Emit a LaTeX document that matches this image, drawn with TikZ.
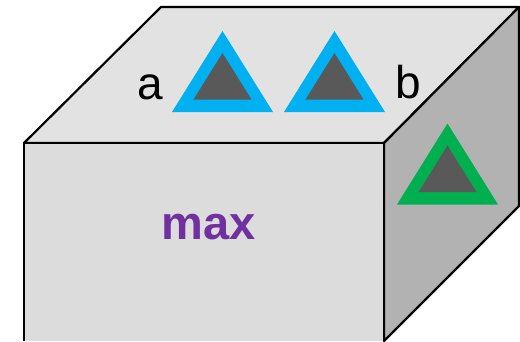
\documentclass[tikz,border=0pt]{standalone}
\usepackage{fontspec}
\setmainfont{Liberation Sans}
\usetikzlibrary{positioning}
\definecolor{facetop}{HTML}{E2E2E2}
\definecolor{facefront}{HTML}{DCDCDC}
\definecolor{faceside}{HTML}{B2B2B2}
\definecolor{triblue}{HTML}{00B0F0}
\definecolor{trigreen}{HTML}{00B050}
\definecolor{trigray}{HTML}{595959}
\definecolor{maxpurple}{HTML}{7030A0}
\tikzset{
  face/.style={draw=black, line width=2.2pt, line join=round},
  letter/.style={inner sep=0pt, anchor=base, font=\fontsize{46}{46}\selectfont},
  maxlabel/.style={inner sep=0pt, anchor=base, text=maxpurple, font=\fontsize{47}{47}\selectfont\bfseries}
}

\begin{document}
\begin{tikzpicture}[x=1pt, y=-1pt]
    \useasboundingbox (0,0) rectangle (520,341);
    % cube faces
    \coordinate (frontleft) at (24,143);
    \coordinate (frontright) at (384,143);
    \coordinate (backleft) at (161,7);
    \coordinate (backright) at (519,7);
    \filldraw[face, fill=facetop] (frontleft) -- (backleft) -- (backright) -- (frontright) -- cycle;
    \filldraw[face, fill=faceside] (frontright) -- (backright) -- (519,206) -- (384,341) -- cycle;
    \fill[facefront] (frontleft) rectangle (384,341);
    \draw[face] (24,341) -- (frontleft) -- (frontright) -- (384,341);
    % triangles
    \foreach \tx/\ty/\tcolor in {222.5/112/triblue, 334.5/112/triblue, 447.5/204.5/trigreen} {
      \fill[\tcolor] (\tx-50.5,\ty) -- (\tx,\ty-81) -- (\tx+50.5,\ty) -- cycle;
      \fill[trigray] (\tx-29,\ty-12.5) -- (\tx,\ty-59) -- (\tx+29,\ty-12.5) -- cycle;
    }
    % labels
    \node[letter] (lettera) at (150.5,99) {a};
    \node[letter] (letterb) at (408,98) {b};
    \node[maxlabel] (maxtext) at (208.5,239) {max};
  \end{tikzpicture}
\end{document}
